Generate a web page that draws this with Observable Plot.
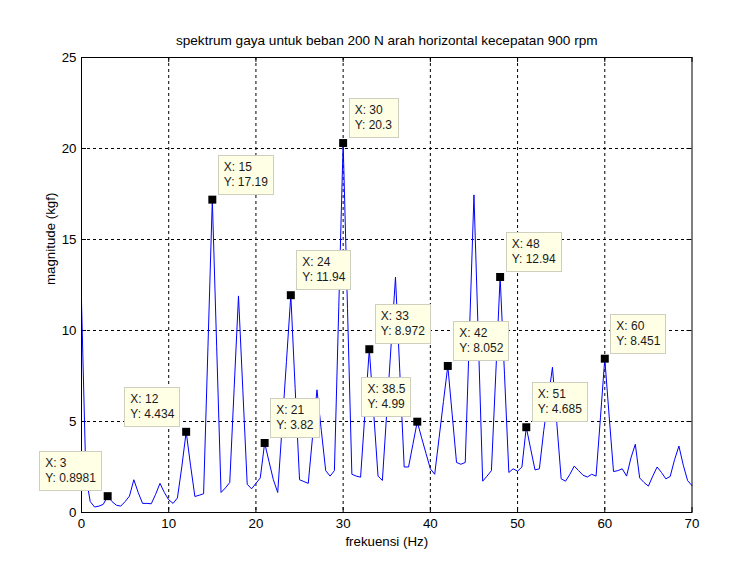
<!DOCTYPE html>
<html>
<head>
<meta charset="utf-8">
<script src="https://cdn.jsdelivr.net/npm/d3@7"></script>
<script src="https://cdn.jsdelivr.net/npm/@observablehq/plot@0.6"></script>
<style>
  html, body { margin: 0; padding: 0; background: #ffffff; }
  #chart { width: 730px; height: 570px; }
</style>
</head>
<body>
<div id="chart"></div>
<script>
// ---- data ----
const freq = [
  0, 0.5, 1, 1.5, 2, 2.5, 3, 3.5, 4, 4.5, 5, 5.5, 6, 6.5, 7, 7.5, 8, 8.5, 9, 9.5,
  10, 10.5, 11, 11.5, 12, 12.5, 13, 13.5, 14, 14.5, 15, 15.5, 16, 16.5, 17, 17.5, 18, 18.5, 19, 19.5,
  20, 20.5, 21, 21.5, 22, 22.5, 23, 23.5, 24, 24.5, 25, 25.5, 26, 26.5, 27, 27.5, 28, 28.5, 29, 29.5,
  30, 30.5, 31, 31.5, 32, 32.5, 33, 33.5, 34, 34.5, 35, 35.5, 36, 36.5, 37, 37.5, 38, 38.5, 39, 39.5,
  40, 40.5, 41, 41.5, 42, 42.5, 43, 43.5, 44, 44.5, 45, 45.5, 46, 46.5, 47, 47.5, 48, 48.5, 49, 49.5,
  50, 50.5, 51, 51.5, 52, 52.5, 53, 53.5, 54, 54.5, 55, 55.5, 56, 56.5, 57, 57.5, 58, 58.5, 59, 59.5,
  60, 60.5, 61, 61.5, 62, 62.5, 63, 63.5, 64, 64.5, 65, 65.5, 66, 66.5, 67, 67.5, 68, 68.5, 69, 69.5,
  70
];
const magnitude = [
  11.6, 2.0, 0.6, 0.3, 0.35, 0.45, 0.898, 0.6, 0.4, 0.35, 0.6, 0.9, 1.8, 1.1, 0.5, 0.5, 0.48, 1.0, 1.6, 1.1,
  0.7, 0.5, 0.8, 2.5, 4.434, 2.6, 0.88, 0.95, 1.03, 9.1, 17.19, 9.1, 1.1, 1.35, 1.65, 6.8, 11.9, 6.7, 1.55, 1.3,
  1.6, 1.9, 3.82, 2.8, 1.8, 1.1, 4.7, 8.3, 11.94, 6.8, 1.8, 1.7, 1.6, 4.2, 6.74, 4.5, 2.3, 2.0, 2.3, 11.3,
  20.3, 11.2, 2.1, 2.0, 1.94, 5.45, 8.972, 5.5, 2.0, 1.76, 5.5, 9.2, 12.93, 7.7, 2.5, 2.5, 3.75, 4.99, 4.1, 3.25,
  2.4, 2.1, 4.1, 6.1, 8.052, 5.4, 2.75, 2.65, 2.75, 10.1, 17.45, 9.6, 1.72, 2.0, 2.3, 7.6, 12.94, 7.6, 2.2, 2.4,
  2.27, 2.5, 4.685, 3.5, 2.34, 2.4, 4.5, 6.2, 7.98, 4.9, 1.85, 1.72, 2.1, 2.55, 2.3, 2.05, 1.95, 2.1, 2.0, 5.2,
  8.451, 5.3, 2.25, 2.3, 2.4, 2.0, 3.0, 3.75, 1.9, 1.65, 1.45, 2.0, 2.5, 2.2, 1.85, 1.98, 2.9, 3.65, 2.6, 1.75,
  1.48
];

// data tips
const tipX = [3, 12, 15, 21, 24, 30, 33, 38.5, 42, 48, 51, 60];
const tipY = [0.8981, 4.434, 17.19, 3.82, 11.94, 20.3, 8.972, 4.99, 8.052, 12.94, 4.685, 8.451];
const tipSide = ["left", "left", "right", "right", "right", "right", "right", "left", "right", "right", "right", "right"];

const xTicks = [0, 10, 20, 30, 40, 50, 60, 70];
const yTicks = [0, 5, 10, 15, 20, 25];

const titleText = "spektrum gaya untuk beban 200 N arah horizontal kecepatan 900 rpm";
const xLabel = "frekuensi (Hz)";
const yLabel = "magnitude (kgf)";

// ---- build ----
const series = freq.map((f, i) => ({f, m: magnitude[i]}));
const tips = tipX.map((x, i) => ({x, y: tipY[i], side: tipSide[i], label: `X: ${x}\nY: ${tipY[i]}`}));
const rightTips = tips.filter(d => d.side === "right");
const leftTips = tips.filter(d => d.side === "left");
const xMin = xTicks[0], xMax = xTicks[xTicks.length - 1];
const yMin = yTicks[0], yMax = yTicks[yTicks.length - 1];
const font = "'Liberation Sans', Arial, Helvetica, sans-serif";

const tipStyle = {
  x: "x", y: "y", text: "label", textAnchor: "start", lineAnchor: "bottom",
  lineHeight: 1.25, dy: -14, fontSize: 12, fill: "#1a1a1a"
};

const plot = Plot.plot({
  width: 730,
  height: 570,
  marginLeft: 81,
  marginRight: 38.5,
  marginTop: 57,
  marginBottom: 58,
  style: {fontFamily: font, fontSize: "13.3px", background: "#ffffff", color: "#000000", overflow: "visible"},
  x: {domain: [xMin, xMax]},
  y: {domain: [yMin, yMax]},
  marks: [
    // dotted grid
    Plot.ruleX(xTicks.slice(1, -1), {x: d => d, stroke: "#000", strokeWidth: 1, strokeDasharray: "3,3"}),
    Plot.ruleY(yTicks.slice(1, -1), {y: d => d, stroke: "#000", strokeWidth: 1, strokeDasharray: "3,3"}),
    // inward ticks on all four sides
    Plot.ruleX(xTicks, {x: d => d, y1: yMin, y2: yMin, insetBottom: 5, stroke: "#000"}),
    Plot.ruleX(xTicks, {x: d => d, y1: yMax, y2: yMax, insetTop: 5, stroke: "#000"}),
    Plot.ruleY(yTicks, {y: d => d, x1: xMin, x2: xMin, insetLeft: 5, stroke: "#000"}),
    Plot.ruleY(yTicks, {y: d => d, x1: xMax, x2: xMax, insetRight: 5, stroke: "#000"}),
    // spectrum
    Plot.line(series, {x: "f", y: "m", stroke: "#0000ff", strokeWidth: 1}),
    Plot.frame({stroke: "#000", strokeWidth: 1}),
    // tick labels
    Plot.axisX(xTicks, {anchor: "bottom", tickSize: 0, tickPadding: 6, label: null, fontSize: 13.3, fill: "#000"}),
    Plot.axisY(yTicks, {anchor: "left", tickSize: 0, tickPadding: 5, label: null, fontSize: 13.3, fill: "#000"}),
    // titles
    Plot.text([titleText], {text: d => d, frameAnchor: "top", dy: -13, lineAnchor: "bottom", fontSize: 13.6, fill: "#000"}),
    Plot.text([xLabel], {text: d => d, frameAnchor: "bottom", dy: 33, fontSize: 13.3, fill: "#000"}),
    Plot.text([yLabel], {text: d => d, frameAnchor: "left", dx: -31, rotate: -90, fontSize: 13.3, fill: "#000"}),
    // data tip markers
    Plot.dot(tips, {x: "x", y: "y", symbol: "square", r: 4.5, fill: "#000", stroke: "none"}),
    // data tip labels (right-placed first, then left-placed)
    Plot.text(rightTips, {...tipStyle, dx: 11.5}),
    Plot.text(leftTips, {...tipStyle, dx: -11.5})
  ]
});

document.getElementById("chart").append(plot);

// data tip boxes (sized from the rendered label text)
const svg = d3.select(plot);
const tipNodes = svg.selectAll("text").nodes().filter(n => /^X: /.test(n.textContent));
const orderedTips = [...rightTips, ...leftTips];
tipNodes.forEach((node, i) => {
  const d = orderedTips[i];
  if (d && d.side === "left") {
    const w = node.getBBox().width;
    const t = node.getAttribute("transform") || "";
    node.setAttribute("transform", `translate(${-w},0) ${t}`);
  }
});
if (tipNodes.length) {
  const base = plot.getBoundingClientRect();
  const firstGroup = tipNodes[0].closest("g");
  const boxes = d3.select(plot.insertBefore(document.createElementNS("http://www.w3.org/2000/svg", "g"), firstGroup));
  tipNodes.forEach(node => {
    const r = node.getBoundingClientRect();
    const x0 = Math.round(r.left - base.left - 6) + 0.5;
    const y0 = Math.round(r.top - base.top - 5) + 0.5;
    const w = Math.round(r.width + 11);
    const h = Math.round(r.height + 10);
    boxes.append("rect")
      .attr("x", x0).attr("y", y0).attr("width", w).attr("height", h)
      .attr("fill", "#ffffe6").attr("stroke", "#cfcfc0").attr("stroke-width", 1);
  });
}
</script>
</body>
</html>
